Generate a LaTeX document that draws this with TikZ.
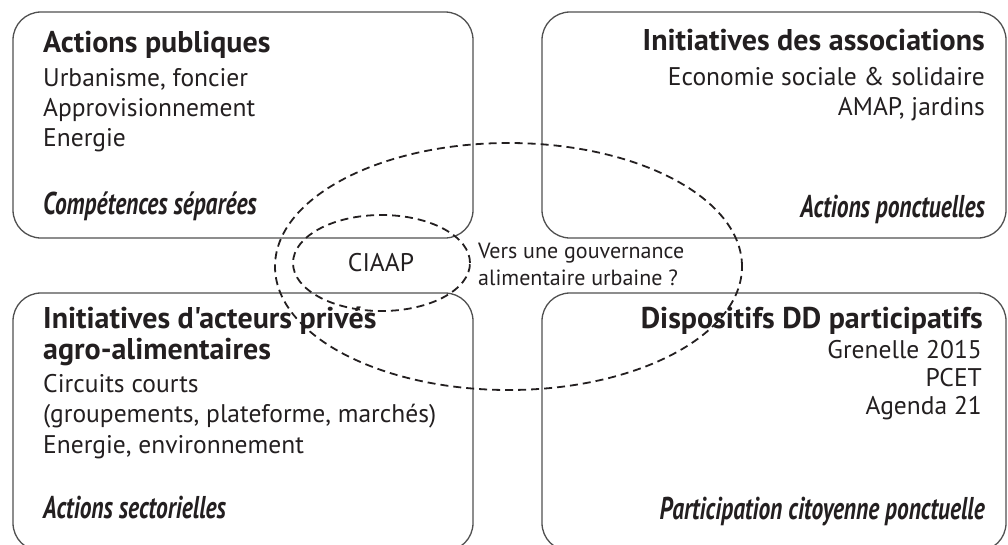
\documentclass[tikz,border=0pt]{standalone}
\usepackage{fontspec}
\setmainfont{PT Sans}[Ligatures=TeXOff]
\newfontfamily\condit[FakeStretch=0.745]{PT Sans}
\usetikzlibrary{shapes.geometric}
\definecolor{ink}{HTML}{231F20}
\definecolor{boxline}{HTML}{505050}
\tikzset{
  box/.style={draw=boxline, line width=1.3pt, rounded corners=28pt, inner sep=0pt},
  ttl/.style={inner sep=0pt, text=ink, font=\fontsize{30}{34}\selectfont\bfseries},
  body/.style={inner sep=0pt, text=ink, font=\fontsize{25.5}{30}\selectfont},
  mid/.style={inner sep=0pt, text=ink, font=\fontsize{22}{26}\selectfont},
  note/.style={inner sep=0pt, text=ink, font=\condit\fontsize{31.5}{34}\selectfont\bfseries\itshape},
  ring/.style={draw=ink, line width=1.8pt, dash pattern=on 8pt off 5pt, ellipse, inner sep=0pt}
}
\begin{document}
\begin{tikzpicture}[x=1pt,y=-1pt]
\useasboundingbox (0,0) rectangle (1008,544);
\clip (0,0) rectangle (1008,544);
% boxes
\node[box, minimum width=460pt, minimum height=226pt] (tl) at (243,125) {};
\node[box, minimum width=464pt, minimum height=226pt] (tr) at (774,125) {};
\node[box, minimum width=460pt, minimum height=258pt] (bl) at (243,422) {};
\node[box, minimum width=464pt, minimum height=258pt] (br) at (774,422) {};
% top left
\node[ttl, anchor=base west] (tl1) at (43,52) {Actions publiques};
\node[body, anchor=base west] (tl2) at (43,86) {Urbanisme, foncier};
\node[body, anchor=base west] (tl3) at (43,116) {Approvisionnement};
\node[body, anchor=base west] (tl4) at (43,146.5) {Energie};
\node[note, anchor=base west] (tl5) at (43,214) {Compétences séparées};
% top right
\node[ttl, anchor=base east] (tr1) at (985,50) {Initiatives des associations};
\node[body, anchor=base east] (tr2) at (985,85) {Economie sociale \& solidaire};
\node[body, anchor=base east] (tr3) at (985,115) {AMAP, jardins};
\node[note, anchor=base east] (tr4) at (985,217) {Actions ponctuelles};
% bottom left
\node[ttl, anchor=base west] (bl1) at (43,328) {Initiatives d'acteurs privés};
\node[ttl, anchor=base west] (bl2) at (43,359) {agro-alimentaires};
\node[body, anchor=base west] (bl3) at (43,392) {Circuits courts};
\node[body, anchor=base west] (bl4) at (43,422.5) {(groupements, plateforme, marchés)};
\node[body, anchor=base west] (bl5) at (43,453) {Energie, environnement};
\node[note, anchor=base west] (bl6) at (43,518) {Actions sectorielles};
% bottom right
\node[ttl, anchor=base east] (br1) at (983,328) {Dispositifs DD participatifs};
\node[body, anchor=base east] (br2) at (982,358) {Grenelle 2015};
\node[body, anchor=base east] (br3) at (982,386) {PCET};
\node[body, anchor=base east] (br4) at (982,414) {Agenda 21};
\node[note, anchor=base east] (br5) at (985,519) {Participation citoyenne ponctuelle};
% ellipses
\node[ring, minimum width=467pt, minimum height=247pt] (big) at (508.5,266.5) {};
\node[ring, minimum width=177pt, minimum height=96pt] (small) at (381.5,263) {};
\node[inner sep=0pt, text=ink, font=\fontsize{25.5}{30}\selectfont] (ciaap) at (381,263) {CIAAP};
\node[mid, anchor=base west] (v1) at (478,258) {Vers une gouvernance};
\node[mid, anchor=base west] (v2) at (478,285) {alimentaire urbaine ?};
\end{tikzpicture}
\end{document}
